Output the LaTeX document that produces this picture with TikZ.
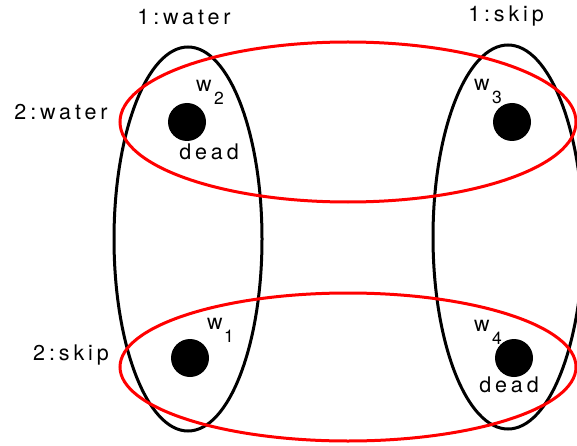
\documentclass[tikz,border=0pt]{standalone}
\usepackage{fontspec}
\setmainfont{TeX Gyre Heros}[LetterSpace=18]
\begin{document}
\begin{tikzpicture}[x=1pt,y=-1pt,
  blackring/.style={draw=black,line width=3pt},
  redring/.style={draw=red,line width=3pt},
  dot/.style={circle,fill=black,inner sep=0pt,minimum size=38pt},
  lab/.style={inner sep=0pt,font=\fontsize{21.5}{21.5}\selectfont},
  sub/.style={inner sep=0pt,font=\fontsize{17.5}{17.5}\selectfont}]
\useasboundingbox (0,0) rectangle (577,446);
% groups
\draw[blackring] (188,239) ellipse [x radius=74, y radius=192];
\draw[blackring] (508,237) ellipse [x radius=75, y radius=192];
\draw[redring] (348,122) ellipse [x radius=228, y radius=80];
\draw[redring] (348,367) ellipse [x radius=228, y radius=74];
% worlds
\node[dot] (d2) at (187,122) {};
\node[dot] (d3) at (512,122) {};
\node[dot] (d1) at (190,358) {};
\node[dot] (d4) at (514,358) {};
% axis labels
\node[lab] (l1w) at (184,17) {1:water};
\node[lab] (l1s) at (506,16) {1:skip};
\node[lab] (l2w) at (61,112) {2:water};
\node[lab] (l2s) at (71,355) {2:skip};
% world labels
\node[lab] (w2) at (204,86) {w};
\node[sub] (s2) at (219,98) {2};
\node[lab] (w3) at (482,85) {w};
\node[sub] (s3) at (497,97) {3};
\node[lab] (w1) at (215,324) {w};
\node[sub] (s1) at (229,336) {1};
\node[lab] (w4) at (482,326) {w};
\node[sub] (s4) at (497,338) {4};
\node[lab] (dead2) at (209,152) {dead};
\node[lab] (dead4) at (509,385) {dead};
\end{tikzpicture}
\end{document}
